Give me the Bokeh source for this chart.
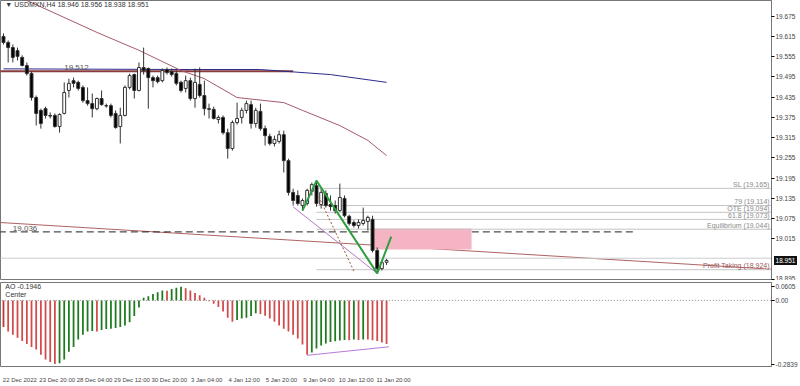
from bokeh.plotting import figure
from bokeh.layouts import column
from bokeh.models import Range1d, FixedTicker, PrintfTickFormatter, Label, ColumnDataSource, Div
from bokeh.embed import file_html
from bokeh.resources import INLINE
from bokeh.core.properties import value

# ---------------- data (USDMXN H4) ----------------
opens = [19.615, 19.597, 19.582, 19.573, 19.553, 19.529, 19.505, 19.434, 19.396, 19.401,
         19.381, 19.381, 19.348, 19.387, 19.455, 19.484, 19.479, 19.464, 19.425, 19.416,
         19.401, 19.431, 19.410, 19.410, 19.387, 19.348, 19.381, 19.464, 19.502, 19.455,
         19.523, 19.520, 19.493, 19.493, 19.484, 19.517, 19.511, 19.505, 19.479, 19.461,
         19.484, 19.431, 19.473, 19.440, 19.401, 19.399, 19.369, 19.375, 19.330, 19.283,
         19.360, 19.375, 19.396, 19.413, 19.357, 19.393, 19.342, 19.319, 19.298, 19.304,
         19.324, 19.247, 19.153, 19.144, 19.114, 19.120, 19.156, 19.173, 19.117, 19.150,
         19.117, 19.114, 19.099, 19.135, 19.082, 19.064, 19.055, 19.061, 19.067, 19.073,
         18.981, 18.927, 18.946]
highs = [19.624, 19.603, 19.591, 19.582, 19.559, 19.538, 19.511, 19.440, 19.401, 19.407,
         19.390, 19.387, 19.387, 19.479, 19.490, 19.493, 19.484, 19.470, 19.464, 19.446,
         19.434, 19.455, 19.416, 19.416, 19.396, 19.404, 19.470, 19.505, 19.505, 19.538,
         19.582, 19.523, 19.499, 19.499, 19.520, 19.523, 19.520, 19.514, 19.484, 19.499,
         19.493, 19.520, 19.523, 19.484, 19.416, 19.407, 19.381, 19.381, 19.342, 19.366,
         19.419, 19.404, 19.425, 19.425, 19.404, 19.416, 19.351, 19.327, 19.321, 19.336,
         19.336, 19.253, 19.164, 19.159, 19.135, 19.164, 19.182, 19.188, 19.164, 19.159,
         19.144, 19.129, 19.179, 19.144, 19.087, 19.070, 19.073, 19.108, 19.084, 19.084,
         18.990, 18.945, 18.956]
lows = [19.591, 19.538, 19.538, 19.544, 19.526, 19.499, 19.425, 19.351, 19.342, 19.372,
        19.372, 19.345, 19.330, 19.384, 19.434, 19.464, 19.455, 19.419, 19.410, 19.375,
        19.396, 19.410, 19.404, 19.375, 19.342, 19.298, 19.378, 19.458, 19.431, 19.452,
        19.502, 19.401, 19.464, 19.476, 19.479, 19.502, 19.496, 19.470, 19.449, 19.449,
        19.425, 19.404, 19.434, 19.381, 19.372, 19.369, 19.357, 19.324, 19.253, 19.277,
        19.354, 19.357, 19.387, 19.342, 19.345, 19.336, 19.292, 19.292, 19.289, 19.298,
        19.212, 19.144, 19.114, 19.114, 19.099, 19.114, 19.144, 19.111, 19.105, 19.108,
        19.099, 19.090, 19.096, 19.079, 19.055, 19.049, 19.046, 19.055, 19.040, 18.975,
        18.913, 18.922, 18.938]
closes = [19.597, 19.582, 19.553, 19.556, 19.529, 19.505, 19.434, 19.387, 19.357, 19.381,
          19.379, 19.348, 19.384, 19.449, 19.476, 19.476, 19.461, 19.425, 19.416, 19.401,
          19.431, 19.413, 19.409, 19.381, 19.345, 19.381, 19.464, 19.499, 19.455, 19.523,
          19.514, 19.493, 19.484, 19.481, 19.514, 19.508, 19.502, 19.476, 19.455, 19.484,
          19.431, 19.479, 19.440, 19.401, 19.399, 19.372, 19.375, 19.330, 19.283, 19.360,
          19.372, 19.396, 19.416, 19.357, 19.396, 19.342, 19.321, 19.298, 19.310, 19.324,
          19.247, 19.153, 19.129, 19.120, 19.129, 19.159, 19.176, 19.120, 19.153, 19.114,
          19.111, 19.099, 19.138, 19.084, 19.061, 19.055, 19.064, 19.070, 19.079, 18.981,
          18.927, 18.945, 18.951]

ao = [-0.119, -0.139, -0.153, -0.167, -0.181, -0.195, -0.208, -0.219, -0.243, -0.264,
      -0.275, -0.2839, -0.281, -0.264, -0.229, -0.208, -0.174, -0.153, -0.139, -0.137,
      -0.139, -0.132, -0.128, -0.126, -0.123, -0.119, -0.112, -0.098, -0.070, -0.032,
      0.012, 0.019, 0.029, 0.037, 0.044, 0.043, 0.051, 0.057, 0.0605, 0.054,
      0.044, 0.033, 0.023, 0.012, -0.004, -0.015, -0.029, -0.050, -0.077, -0.095,
      -0.087, -0.081, -0.077, -0.070, -0.057, -0.061, -0.068, -0.081, -0.095, -0.112,
      -0.126, -0.139, -0.153, -0.170, -0.197, -0.243, -0.233, -0.215, -0.201, -0.192,
      -0.186, -0.182, -0.179, -0.177, -0.178, -0.175, -0.177, -0.174, -0.175, -0.178,
      -0.181, -0.188, -0.1946]

time_tick_bars = [0, 8, 16, 24, 32, 40, 48, 56, 64, 72, 80]
time_tick_labels = ["22 Dec 2022", "23 Dec 20:00", "28 Dec 04:00", "29 Dec 12:00", "30 Dec 20:00",
                    "3 Jan 04:00", "4 Jan 12:00", "5 Jan 20:00", "9 Jan 04:00", "10 Jan 12:00",
                    "11 Jan 20:00"]
price_ticks = [19.675, 19.615, 19.555, 19.495, 19.435, 19.375, 19.315, 19.255,
               19.195, 19.135, 19.075, 19.015, 18.895]

# moving averages (knots)
ma_fast_bars = [4, 20, 29, 38, 43, 50, 60, 64, 72, 78, 82]
ma_fast_vals = [19.728, 19.627, 19.574, 19.514, 19.490, 19.434, 19.419, 19.396, 19.351, 19.307, 19.262]
ma_slow_bars = [0, 20, 40, 55, 61, 70, 82]
ma_slow_vals = [19.519, 19.518, 19.517, 19.517, 19.511, 19.502, 19.479]

level_hi = 19.512
level_hi_end = 62
level_lo = 19.036
level_lo_end = 135
trend_bars = [-1, 166]
trend_vals = [19.064, 18.924]

zz_bars = [64, 67, 80, 83]
zz_vals = [19.099, 19.188, 18.913, 19.022]
diag_bars = [62, 80]
diag_vals = [19.110, 18.913]
dot_bars = [67.5, 75]
dot_vals = [19.140, 18.920]

zone_left, zone_right = 78.7, 100.2
zone_top, zone_bottom = 19.046, 18.984

fib_names = ["SL", "79", "OTE", "61.8", "Equilibrium", "Profit Taking"]
fib_levels = [19.165, 19.114, 19.094, 19.073, 19.044, 18.924]
fib_start = 67

bid_price = 18.951
ask_line = 18.958
ao_div_bars = [65, 82.5]
ao_div_vals = [-0.245, -0.207]

# ---------------- figures ----------------
FONT = "Liberation Sans"
W = 800
RB = 26
H1, H2 = 280, 105
YMIN, YMAX = 18.892, 19.7215
XSTART, XEND = -0.64, 164.4
XR = Range1d(XSTART, XEND)

p = figure(width=W, height=H1, x_range=XR, y_range=Range1d(YMIN, YMAX),
           output_backend="svg", toolbar_location=None, x_axis_location=None,
           y_axis_location="right", min_border_left=0, min_border_top=0,
           min_border_bottom=0, min_border_right=RB)
p.grid.visible = False
p.outline_line_color = "#777777"
p.background_fill_color = "white"
ya = p.yaxis[0]
ya.ticker = FixedTicker(ticks=price_ticks)
ya.formatter = PrintfTickFormatter(format="%.3f")
ya.major_label_text_font = FONT
ya.major_label_text_font_size = "6.5px"
ya.major_label_text_color = "#444444"
ya.axis_line_color = "#777777"
ya.major_tick_out = 3
ya.major_tick_in = 0
ya.minor_tick_line_color = None
ya.major_label_standoff = 1

# trend line, levels
p.line(trend_bars, trend_vals, line_color="#b06262", line_width=1)
p.line([-1, level_hi_end], [level_hi, level_hi], line_color="#8b3b3b", line_width=2)
p.line(ma_slow_bars, ma_slow_vals, line_color="#2b2b8a", line_width=1)
p.line(ma_fast_bars, ma_fast_vals, line_color="#a45a6a", line_width=1)
p.line([-1, level_lo_end], [level_lo, level_lo], line_color="#222222", line_width=1, line_dash="7 4")
p.line([-1, 170], [ask_line, ask_line], line_color="#cccccc", line_width=1)

# pink zone
p.quad(left=[zone_left], right=[zone_right], top=[zone_top], bottom=[zone_bottom],
       fill_color="#f5b4c4", line_color=None)

# fib lines
for lv in fib_levels:
    p.line([fib_start, 170], [lv, lv], line_color="#c4c4c4", line_width=1)
fib_src = ColumnDataSource(dict(
    x=[XEND - 0.4] * len(fib_levels),
    y=[lv + 0.001 for lv in fib_levels],
    t=["%s (%.3f)" % (n, v) for n, v in zip(fib_names, fib_levels)],
    c=["#8a8a8a"] * (len(fib_levels) - 1) + ["#9a5a5a"]))
p.text(x="x", y="y", text="t", text_color="c", source=fib_src, text_align="right",
       text_baseline="bottom", text_font=value(FONT), text_font_size="7px")

# candles
up = [c >= o for o, c in zip(opens, closes)]
src = ColumnDataSource(dict(
    x=list(range(len(opens))), h=highs, l=lows,
    top=[max(o, c) for o, c in zip(opens, closes)],
    bottom=[min(o, c) for o, c in zip(opens, closes)],
    fill=["white" if u else "black" for u in up]))
p.segment(x0="x", y0="h", x1="x", y1="l", source=src, line_color="#333333", line_width=1)
p.vbar(x="x", width=0.62, top="top", bottom="bottom", fill_color="fill",
       line_color="#333333", line_width=1, source=src)

# drawings
p.line(diag_bars, diag_vals, line_color="#b07cc0", line_width=1)
p.line(dot_bars, dot_vals, line_color="#a0523c", line_width=1, line_dash="2 2")
p.line(zz_bars, zz_vals, line_color="#2e9e3e", line_width=2)

# texts
p.add_layout(Label(x=0.4, y=19.7195, text="\u25BC USDMXN,H4  18.946 18.956 18.938 18.951",
                   text_font=FONT, text_font_size="7px", text_color="#333333", text_baseline="top"))
p.add_layout(Label(x=13, y=level_hi + 0.004, text="%.3f" % level_hi, text_font=FONT,
                   text_font_size="8px", text_color="#555555", text_baseline="bottom"))
p.add_layout(Label(x=2, y=level_lo + 0.004, text="%.3f" % level_lo, text_font=FONT,
                   text_font_size="8px", text_color="#555555", text_baseline="bottom"))

# ---------------- AO sub window ----------------
q = figure(width=W, height=H2, x_range=XR, y_range=Range1d(-0.295, 0.080),
           output_backend="svg", toolbar_location=None, y_axis_location="right",
           min_border_left=0, min_border_top=2, min_border_right=RB)
q.grid.visible = False
q.outline_line_color = "#777777"
qa = q.yaxis[0]
qa.ticker = FixedTicker(ticks=[0.0605, 0.0, -0.2839])
qa.major_label_overrides = {0.0605: "0.0605", 0.0: "0.00", -0.2839: "-0.2839"}
qa.major_label_text_font = FONT
qa.major_label_text_font_size = "6.5px"
qa.major_label_text_color = "#444444"
qa.axis_line_color = "#777777"
qa.major_tick_out = 3
qa.major_tick_in = 0
qa.minor_tick_line_color = None
qa.major_label_standoff = 1

xa = q.xaxis[0]
shift = 3.5
xa.ticker = FixedTicker(ticks=[b + shift for b in time_tick_bars])
xa.major_label_overrides = {b + shift: t for b, t in zip(time_tick_bars, time_tick_labels)}
xa.major_label_text_font = FONT
xa.major_label_text_font_size = "6px"
xa.major_label_text_color = "#444444"
xa.axis_line_color = None
xa.major_tick_line_color = None
xa.minor_tick_line_color = None
xa.major_label_standoff = 4

ao_col = ["#c23434"] + ["#1f7a1f" if ao[i] > ao[i - 1] else "#d24a4a" for i in range(1, len(ao))]
q.vbar(x=list(range(len(ao))), top=ao, bottom=0, width=0.38, fill_color=ao_col, line_color=None)
q.line([-1, 170], [0, 0], line_color="#888888", line_dash="1 2", line_width=1)
q.line(ao_div_bars, ao_div_vals, line_color="#b77ad6", line_width=1)
q.add_layout(Label(x=0.4, y=0.079, text="AO -0.1946", text_font=FONT, text_font_size="7px",
                   text_color="#333333", text_baseline="top"))
q.add_layout(Label(x=0.4, y=0.041, text="Center", text_font=FONT, text_font_size="7px",
                   text_color="#333333", text_baseline="top"))

# current-price tag in the price-axis area (HTML overlay, positioned from the bid price)
bid_top = (YMAX - bid_price) / (YMAX - YMIN) * H1 - 5 - (H1 + H2) - 9
tag = Div(text=('<div style="position:relative; left:%dpx; top:%dpx; width:23px; height:9px; '
                'background:#111; color:#fff; font:6.5px \'Liberation Sans\'; line-height:9px; '
                'text-align:center;">%.3f</div>') % (W - RB - 5, int(round(bid_top)), bid_price),
          width=W, height=1, styles={"overflow": "visible"})

layout = column(p, q, tag, spacing=0)
open("out.html", "w").write(file_html(layout, INLINE))
